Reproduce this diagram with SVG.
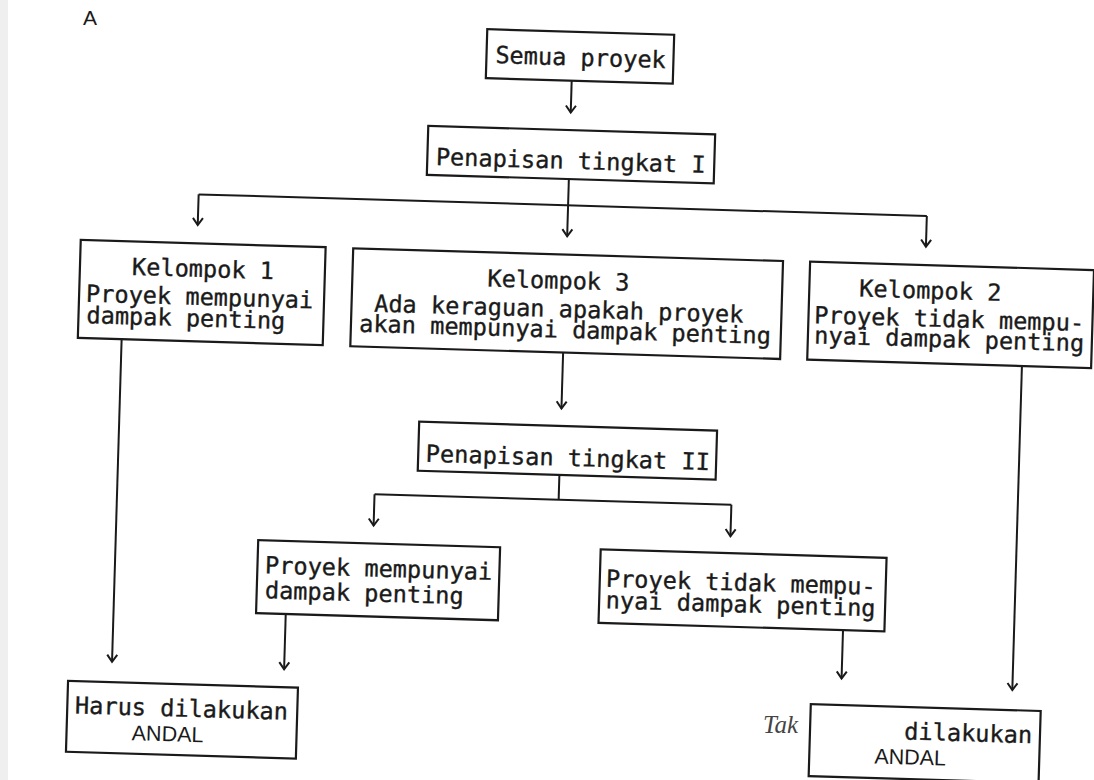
<svg xmlns="http://www.w3.org/2000/svg" width="1094" height="780" viewBox="0 0 1094 780">
<style>
.box{fill:#fff;stroke:#1a1a1a;stroke-width:2.2}
.t{font-family:"DejaVu Sans Mono","Liberation Mono",monospace;font-size:23.6px;fill:#1a1a1a;stroke:#1a1a1a;stroke-width:0.35}
.s{font-family:"Liberation Sans",Arial,sans-serif;font-size:21.5px;fill:#1a1a1a}
.c{fill:none;stroke:#1a1a1a;stroke-width:2}
.a{fill:none;stroke:#1a1a1a;stroke-width:2;marker-end:url(#ah)}
</style>
<defs>
<marker id="ah" markerUnits="userSpaceOnUse" markerWidth="12" markerHeight="14" viewBox="-9 -7 12 14" refX="0" refY="0" orient="auto">
<path d="M-7,-5 L0,0 L-7,5" fill="none" stroke="#1a1a1a" stroke-width="2"/>
</marker>
</defs>
<rect x="0" y="0" width="1094" height="780" fill="#fff"/>
<rect x="0" y="0" width="8" height="780" fill="#efefef"/>
<text x="83" y="25" font-family="Liberation Sans, Arial, sans-serif" font-size="21" fill="#1a1a1a">A</text>
<g transform="rotate(1.7 547 390)">
<g id="connectors">
<path class="a" d="M562.5,80 V112"/>
<path class="a" d="M562.6,178.5 V235.7"/>
<path class="c" d="M193,204.8 H921.5"/>
<path class="a" d="M193,204.8 V235.5"/>
<path class="a" d="M921.5,204.8 V235.5"/>
<path class="a" d="M120.3,351.8 V674.6"/>
<path class="a" d="M562,352.1 V408"/>
<path class="c" d="M561.9,474.5 V499.3"/>
<path class="c" d="M377.7,499.3 H734.7"/>
<path class="a" d="M377.7,499.3 V530.7"/>
<path class="a" d="M734.7,499.3 V530.7"/>
<path class="a" d="M292.5,621.6 V677"/>
<path class="a" d="M850,621 V669.6"/>
<path class="a" d="M1021,351.9 V676.2"/>
</g>
<g id="semua">
<rect class="box" x="476.6" y="31.1" width="187" height="49"/>
<text class="t" x="485.5" y="64.8">Semua proyek</text>
</g>
<g id="penapisan1">
<rect class="box" x="420.5" y="129.5" width="287" height="49"/>
<text class="t" x="429" y="168.3">Penapisan tingkat I</text>
</g>
<g id="kelompok1">
<rect class="box" x="76.5" y="253.8" width="245" height="98"/>
<text class="t" x="128.6" y="287.3">Kelompok 1</text>
<text class="t" x="83.4" y="315.4">Proyek mempunyai</text>
<text class="t" x="84.5" y="336.9">dampak penting</text>
</g>
<g id="kelompok3">
<rect class="box" x="349.1" y="254.1" width="430" height="98"/>
<text class="t" x="484.2" y="288.4">Kelompok 3</text>
<text class="t" x="371.7" y="316.8">Ada keraguan apakah proyek</text>
<text class="t" x="357.3" y="337.3">akan mempunyai dampak penting</text>
</g>
<g id="kelompok2">
<rect class="box" x="806.2" y="253.9" width="284" height="98"/>
<text class="t" x="856.2" y="287.4">Kelompok 2</text>
<text class="t" x="812" y="315.3">Proyek tidak mempu-</text>
<text class="t" x="812.6" y="335.5">nyai dampak penting</text>
</g>
<g id="penapisan2">
<rect class="box" x="420.2" y="425.5" width="298" height="49"/>
<text class="t" x="427.8" y="465.3">Penapisan tingkat II</text>
</g>
<g id="proyek-penting">
<rect class="box" x="262.8" y="548.6" width="242" height="73"/>
<text class="t" x="270.4" y="581.6">Proyek mempunyai</text>
<text class="t" x="271" y="606.6">dampak penting</text>
</g>
<g id="proyek-tidak">
<rect class="box" x="605.4" y="547.7" width="286" height="73.5"/>
<text class="t" x="611.5" y="584.9">Proyek tidak mempu-</text>
<text class="t" x="612" y="606.5">nyai dampak penting</text>
</g>
<g id="harus-andal">
<rect class="box" x="76.9" y="694.9" width="230" height="71"/>
<text class="t" x="84.6" y="727.3">Harus dilakukan</text>
<text class="s" x="142.1" y="752.3">ANDAL</text>
</g>
<g id="tidak-andal">
<rect class="box" x="820" y="696.2" width="230" height="72"/>
<text class="t" x="914.3" y="728.7">dilakukan</text>
<text class="s" x="885.1" y="753.6">ANDAL</text>
</g>
</g>
<text x="763" y="733" font-family="Liberation Serif, serif" font-style="italic" font-size="25" fill="#444">Tak</text>
</svg>
